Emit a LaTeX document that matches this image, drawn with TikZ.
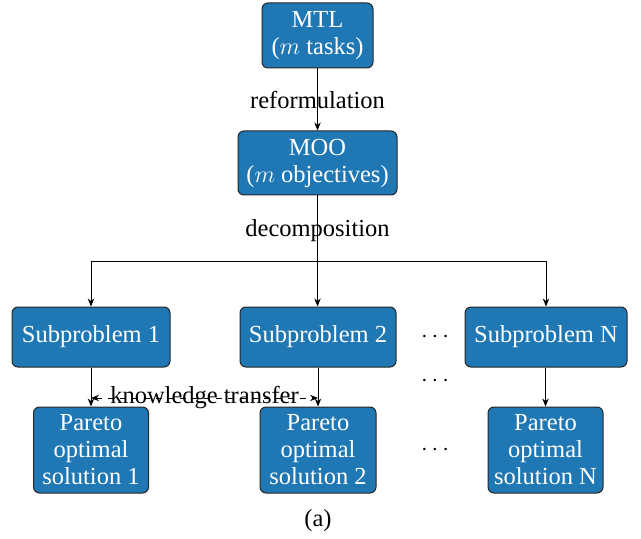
\documentclass[tikz,border=0pt]{standalone}
\usepackage{fontspec}
\setmainfont{Liberation Serif}
\usetikzlibrary{arrows.meta}
\definecolor{boxblue}{HTML}{1F77B4}
\begin{document}
\begin{tikzpicture}[x=0.5pt,y=-0.5pt,
  font=\fontsize{12.25}{13.5}\selectfont,
  box/.style={draw=black!85, line width=0.5pt, fill=boxblue, text=white, rounded corners=3pt, align=center, inner sep=0pt},
  conn/.style={-{Stealth[length=4pt,width=3.2pt]}, line width=0.5pt},
  lbl/.style={inner sep=0pt}]
\useasboundingbox (0,0) rectangle (641,539);
\node[box, minimum width=55.5pt, minimum height=32.5pt] (mtl) at (317.5,35.5) {MTL\\($m$ tasks)};
\node[box, minimum width=79.5pt, minimum height=32pt] (moo) at (317.5,163) {MOO\\($m$ objectives)};
\node[box, minimum width=79pt, minimum height=30pt] (sub1) at (91,337) {Subproblem 1};
\node[box, minimum width=78pt, minimum height=30pt] (sub2) at (318,337) {Subproblem 2};
\node[box, minimum width=81pt, minimum height=30pt] (subN) at (546,337) {Subproblem N};
\node[box, minimum width=57.5pt, minimum height=43pt, text depth=1pt] (par1) at (91,450) {Pareto\\optimal\\solution 1};
\node[box, minimum width=58pt, minimum height=43pt, text depth=1pt] (par2) at (318,450) {Pareto\\optimal\\solution 2};
\node[box, minimum width=57.5pt, minimum height=43pt, text depth=1pt] (parN) at (545.5,450) {Pareto\\optimal\\solution N};
\node[lbl] (dots1) at (435,337) {$\cdots$};
\node[lbl] (dots2) at (435,381) {$\cdots$};
\node[lbl] (dots3) at (435,450) {$\cdots$};
\coordinate (split) at (317.5,262);
\draw[conn] (mtl) -- (moo) node[midway, lbl] (reform) {reformulation};
\draw[line width=0.5pt] (moo) -- (split) node[midway, lbl, yshift=-1pt] (decomp) {decomposition};
\draw[conn] (split) -| (sub1);
\draw[conn] (split) -- (sub2.north -| split);
\draw[conn] (split) -| (subN);
\draw[conn] (sub1) -- (par1);
\draw[conn] (sub2.south -| par2) -- (par2);
\draw[conn] (subN.south -| parN) -- (parN);
\coordinate (k1) at (91,398);
\coordinate (k2) at (318,398);
\draw[{Stealth[length=4pt,width=3.2pt]}-{Stealth[length=4pt,width=3.2pt]}, dashed, line width=0.5pt] (k1) -- (k2) node[midway, lbl] (kt) {knowledge transfer};
\node[lbl] (cap) at (318,521) {(a)};
\end{tikzpicture}
\end{document}
